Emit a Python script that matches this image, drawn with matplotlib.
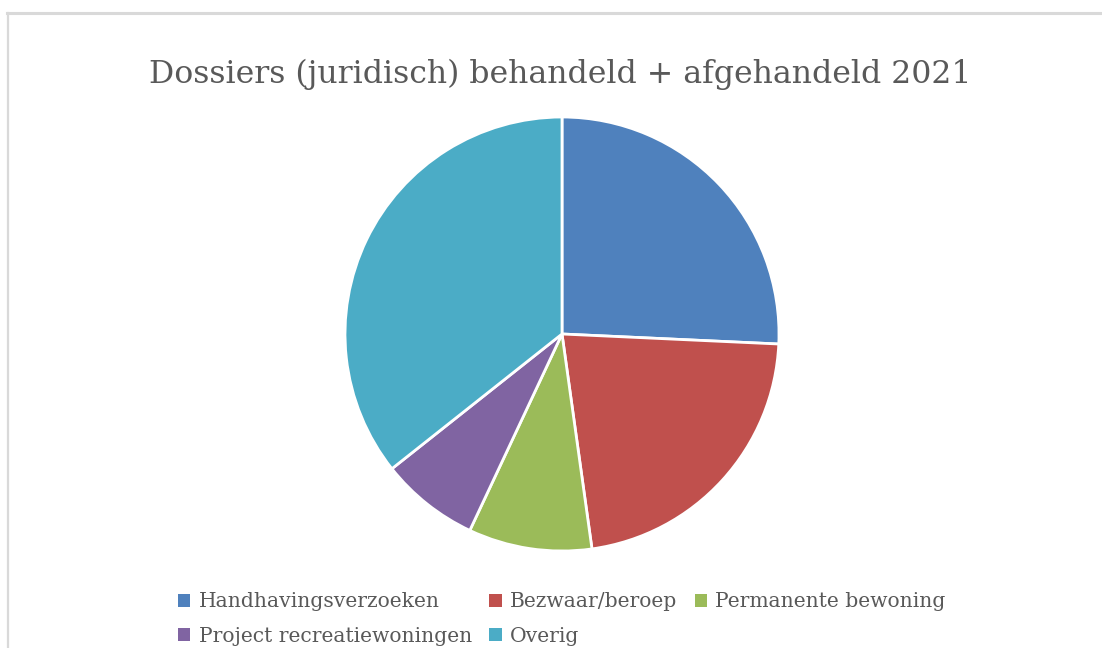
import matplotlib
matplotlib.use("Agg")
import matplotlib.pyplot as plt
from matplotlib.patches import Patch
from matplotlib.lines import Line2D

categories = ["Handhavingsverzoeken", "Bezwaar/beroep", "Permanente bewoning",
              "Project recreatiewoningen", "Overig"]
values = [35, 30, 12.5, 10, 48.5]
colors = ["#4F81BD", "#C0504D", "#9BBB59", "#8064A2", "#4BACC6"]
title = "Dossiers (juridisch) behandeld + afgehandeld 2021"

W, H = 1102, 648
fig = plt.figure(figsize=(W / 100, H / 100), dpi=100)
fig.patch.set_facecolor("white")

# frame lines (chart border partially visible)
fig.add_artist(Line2D([7.5 / W, 7.5 / W], [0, 1 - 12.5 / H], color="#d9d9d9", lw=1.6,
                      transform=fig.transFigure))
fig.add_artist(Line2D([6.5 / W, 1], [1 - 12.5 / H, 1 - 12.5 / H], color="#d9d9d9", lw=2.2,
                      transform=fig.transFigure))

cx, cy, r = 562, 334, 217
ax = fig.add_axes([(cx - r) / W, 1 - (cy + r) / H, 2 * r / W, 2 * r / H])
ax.pie(values, colors=colors, startangle=90, counterclock=False,
       wedgeprops=dict(edgecolor="white", linewidth=2.0))
ax.set_xlim(-1, 1)
ax.set_ylim(-1, 1)
ax.set_aspect("auto")
ax.axis("off")

fig.text(560 / W, 1 - 74 / H, title, ha="center", va="center",
         fontsize=22.7, color="#595959", family="DejaVu Serif")

handles = [Patch(facecolor=c, edgecolor="none") for c in colors]
order = [0, 3, 1, 4, 2]
leg = fig.legend([handles[i] for i in order], [categories[i] for i in order],
                 ncol=3, loc="center", bbox_to_anchor=(562 / W, 1 - 619 / H),
                 frameon=False, prop=dict(family="DejaVu Serif", size=14.6),
                 handlelength=0.6, handleheight=0.6, handletextpad=0.42,
                 columnspacing=0.85, labelspacing=0.75, borderpad=0, borderaxespad=0)
for t in leg.get_texts():
    t.set_color("#595959")

fig.savefig("out.png", dpi=100, facecolor="white")
